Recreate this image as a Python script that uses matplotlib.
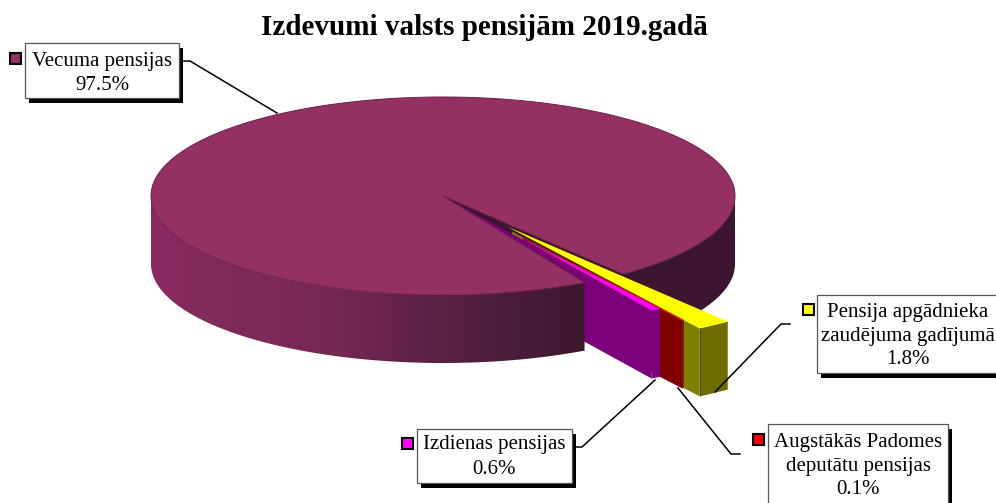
import matplotlib as mpl
mpl.use('agg')
import matplotlib.pyplot as plt
from matplotlib.patches import Rectangle, Polygon
import numpy as np

plt.rcParams['font.family'] = ['Liberation Serif', 'DejaVu Serif']

# data
names = ["Vecuma pensijas", "Izdienas pensijas", "Augstākās Padomes\ndeputātu pensijas", "Pensija apgādnieka\nzaudējuma gadījumā"]
shares = [97.5, 0.6, 0.1, 1.8]

# colours: top, left side, outer side
top_cols = ['#943162', '#ff00ff', '#ff0000', '#ffff00']
side_cols = ['#4a1b38', '#7c007c', '#800000', '#808000']
outer_cols = ['#4a1b38', '#7c007c', '#7a0000', '#6c6c00']

# pie geometry, in picture pixels
cx, cy = 443, 196
rx, ry = 292, 99
depth = 68
gap_end = 61.0      # main slice starts here and goes all the way round
gap_squeeze = 0.65  # the 3d view squeezes the small slices together
small_start = 58.3
small_r = [1.36, 1.50, 1.60]
small_tip = [0.45, 0.45, 0.38]

# label boxes: x0, y0, x1, y1, text x, first line y, marker x, marker y
boxes = [(25, 43, 179, 98, 102, 61, 10, 53),
         (417, 429, 572, 483, 494, 445, 402, 438),
         (768, 424, 948, 520, 858, 442, 753, 434),
         (817, 295, 1010, 373, 908, 312, 803, 304)]
leaders = [([180, 190, 277], [61, 61, 113]),
           ([576, 582, 655], [447, 447, 380]),
           ([740, 731, 678], [454, 454, 388]),
           ([790, 781, 715], [324, 324, 392])]


def pt(r, a):
    a = np.radians(a)
    return cx + rx * r * np.cos(a), cy + ry * r * np.sin(a)


def shade(x):
    # side of the big slice gets darker going right
    xs = [150, 230, 330, 430, 520, 590, 740]
    r = np.interp(x, xs, [140, 128, 118, 92, 72, 60, 60])
    g = np.interp(x, xs, [42, 42, 40, 33, 28, 24, 22])
    b = np.interp(x, xs, [98, 90, 84, 70, 56, 46, 50])
    return np.dstack([r, g, b]) / 255


def wall(ax, a0, a1, z):
    # rim of the big slice, gradient image clipped to the rim shape
    angs = np.linspace(a0, a1, 200)
    xo, yo = pt(1, angs)
    poly = Polygon(np.c_[np.r_[xo, xo[::-1]], np.r_[yo, yo[::-1] + depth]], closed=True, fc='none', ec='none', transform=ax.transData)
    ax.add_patch(poly)
    xs = np.arange(140, 750)
    im = ax.imshow(shade(xs), extent=(140, 750, 400, 100), aspect='auto', zorder=z, interpolation='bilinear')
    im.set_clip_path(poly)


fig = plt.figure(figsize=(9.96, 5.03), dpi=100)
ax = fig.add_axes([0, 0, 1, 1])

# angles of the small slices, from the values
spans = [s * 3.6 * gap_squeeze for s in shares]
edges = [small_start]
for s in spans[1:]:
    edges.append(edges[-1] - s)
gap_start = gap_end - shares[1] * 3.6 - shares[2] * 3.6 - shares[3] * 3.6

# back part of big slice
wall(ax, 0, gap_start, 1)
xe, ye = pt(1, gap_start)
ax.fill([cx, xe, xe, cx], [cy, ye, ye + depth, cy + depth], color='#3c1630', zorder=1.5)

# small slices, back one first
for i in [3, 2, 1]:
    z = 5 - i * 0.5
    a_hi, a_lo = edges[i - 1], edges[i]
    r = small_r[i - 1]
    tip = small_tip[i - 1]
    x1, y1 = pt(r, a_hi)
    # izdienas wall runs right back to the centre, the others start past their tip
    x0, y0 = (cx, cy) if i == 1 else pt(tip + 0.05, a_hi)
    ax.fill([x0, x1, x1, x0], [y0, y1, y1 + depth, y0 + depth], color=side_cols[i], lw=0, zorder=z)
    angs = np.linspace(a_lo, a_hi, 12)
    xo, yo = pt(r, angs)
    ax.fill(np.r_[xo, xo[::-1]], np.r_[yo, yo[::-1] + depth], color=outer_cols[i], lw=0, zorder=z)
    xt, yt = pt(tip, (a_lo + a_hi) / 2)
    ax.fill(np.r_[xt, xo], np.r_[yt, yo], color=top_cols[i], lw=0, zorder=z + 0.1)
    if i == 3:
        ax.plot([x1, x1], [y1, y1 + depth], color='#00000055', lw=0.6, zorder=z + 0.1)

# front part of big slice and its top
wall(ax, gap_end, 180, 6)
angs = np.linspace(gap_end, gap_start + 360, 600)
xt, yt = pt(1, angs)
ax.fill(np.r_[cx, xt], np.r_[cy, yt], fc=top_cols[0], ec='#6e2049', lw=0.7, zorder=7)

# leaders
for xs, ys in leaders:
    ax.plot(xs, ys, color='black', lw=1.1, solid_joinstyle='miter', zorder=8)

# labels
for i, b in enumerate(boxes):
    x0, y0, x1, y1, tx, ty, mx, my = b
    ax.add_patch(Rectangle((x0 + 4, y0 + 5), x1 - x0, y1 - y0, fc='black', ec='none', zorder=9))
    ax.add_patch(Rectangle((x0, y0), x1 - x0, y1 - y0, fc='white', ec='#555555', lw=0.9, zorder=10))
    ax.add_patch(Rectangle((mx, my), 11, 11, fc=top_cols[i], ec='black', lw=1.5, zorder=10))
    lines = names[i].split("\n") + ["%.1f%%" % shares[i]]
    for k, s in enumerate(lines):
        ax.text(tx, ty + k * 24, s, fontsize=15, ha='center', va='center', color='black', zorder=11, clip_on=False)

ax.text(484, 27, "Izdevumi valsts pensijām 2019.gadā", fontsize=21, fontweight='bold', ha='center', va='center', color='black')

ax.set_xlim(0, 996)
ax.set_ylim(503, 0)
ax.axis('off')

plt.savefig("out.png", dpi=100)
